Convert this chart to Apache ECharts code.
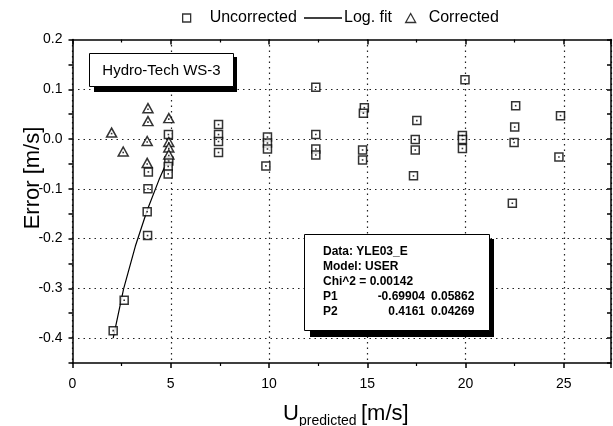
<!DOCTYPE html>
<html>
<head>
<meta charset="utf-8">
<script src="https://cdn.jsdelivr.net/npm/echarts@6/dist/echarts.min.js"></script>
<style>
  html, body { margin: 0; padding: 0; background: #fff; }
  #chart { width: 613px; height: 426px; }
</style>
</head>
<body>
<div id="chart"></div>
<script>
// Wind speed error vs. predicted speed (Hydro-Tech WS-3)
const uncorrected = [
  [2.07, -0.385], [2.63, -0.324],
  [3.80, -0.146], [3.82, -0.194], [3.84, -0.100], [3.86, -0.066],
  [4.88, 0.009], [4.90, -0.044], [4.87, -0.055], [4.87, -0.070],
  [7.43, 0.029], [7.43, 0.009], [7.43, -0.005], [7.43, -0.027],
  [9.92, 0.004], [9.92, -0.008], [9.92, -0.020], [9.84, -0.054],
  [12.38, 0.104], [12.38, 0.009], [12.38, -0.020], [12.38, -0.032],
  [14.85, 0.063], [14.80, 0.052], [14.76, -0.022], [14.76, -0.042],
  [17.52, 0.037], [17.44, -0.001], [17.44, -0.022], [17.35, -0.074],
  [19.97, 0.119], [19.84, 0.007], [19.84, -0.001], [19.84, -0.019],
  [22.55, 0.067], [22.50, 0.024], [22.47, -0.007], [22.38, -0.129],
  [24.83, 0.047], [24.75, -0.036]
];
const corrected = [
  [1.99, 0.013], [2.58, -0.025],
  [3.84, 0.062], [3.84, 0.036], [3.80, -0.004], [3.80, -0.048],
  [4.90, 0.042], [4.90, -0.006], [4.90, -0.017], [4.90, -0.031]
];
const logFit = [
  [2.07, -0.400], [2.6, -0.301], [3.2, -0.215], [3.8, -0.143], [4.4, -0.082], [4.9, -0.037]
];
const yGridValues = [0.1, 0.0, -0.1, -0.2, -0.3, -0.4];
const fitHeader = ['Data: YLE03_E', 'Model: USER', 'Chi^2 = 0.00142'];
const fitInfo = [
  ['P1', '-0.69904', '0.05862'],
  ['P2', '0.4161', '0.04269']
];

const FONT = 'Liberation Sans, Arial, sans-serif';
const dotted = { color: '#222', width: 1.2, type: [1.5, 4] };

const chart = echarts.init(document.getElementById('chart'), null, { renderer: 'canvas' });

const axisCommon = {
  type: 'value',
  axisLine: { show: true, onZero: false, lineStyle: { color: '#000', width: 1.5 } },
  axisLabel: { show: false },
  splitLine: { show: false }
};

const boxText = (text, x, y, align) => ({
  type: 'text', x: x, y: y, z: 12,
  style: { text: text, fontSize: 12, fontWeight: 'bold', fontFamily: FONT, fill: '#000', align: align || 'left', verticalAlign: 'middle' }
});

const option = {
  animation: false,
  backgroundColor: '#fff',
  grid: { left: 72.5, top: 39.5, right: 2, bottom: 63, outerBoundsMode: 'none', containLabel: false },
  xAxis: [
    Object.assign({}, axisCommon, {
      position: 'bottom', min: 0, max: 27.4, interval: 5,
      axisTick: { show: true, inside: false, length: 5, lineStyle: { color: '#000', width: 1.5 } },
      minorTick: { show: true, splitNumber: 2, length: 3, lineStyle: { color: '#000', width: 1.2 } },
      axisLabel: {
        show: true, color: '#000', fontSize: 14, fontFamily: FONT, margin: 14,
        showMaxLabel: false,
        formatter: function (v) { return Math.abs(v % 5) < 1e-6 ? String(v) : ''; }
      },
      splitLine: { show: true, lineStyle: dotted }
    }),
    Object.assign({}, axisCommon, {
      position: 'top', min: 0, max: 27.4, interval: 5,
      axisTick: { show: true, inside: true, length: 5, lineStyle: { color: '#000', width: 1.5 } },
      minorTick: { show: true, splitNumber: 2, length: 3, lineStyle: { color: '#000', width: 1.2 } }
    })
  ],
  yAxis: [
    Object.assign({}, axisCommon, {
      position: 'left', min: -0.45, max: 0.2, interval: 0.05,
      axisTick: { show: true, inside: false, length: 4, lineStyle: { color: '#000', width: 1.5 } },
      axisLabel: {
        show: true, color: '#000', fontSize: 14, fontFamily: FONT, margin: 10,
        formatter: function (v) {
          const k = Math.round(v * 100);
          if (k % 10 !== 0) return '';
          return (k / 100).toFixed(1);
        }
      }
    }),
    Object.assign({}, axisCommon, {
      position: 'right', min: -0.45, max: 0.2, interval: 0.05,
      axisTick: { show: true, inside: true, length: 4, lineStyle: { color: '#000', width: 1.5 } }
    })
  ],
  legend: [
    {
      left: 177, top: 5, itemWidth: 8, itemHeight: 8, icon: 'rect',
      itemStyle: { color: '#fff', borderColor: '#000', borderWidth: 1.3 },
      textStyle: { fontSize: 16, fontFamily: FONT, color: '#000', padding: [0, 0, 0, 14] },
      data: ['Uncorrected']
    },
    {
      left: 299, top: 5, itemWidth: 38, itemHeight: 1.3, icon: 'rect',
      itemStyle: { color: '#000' },
      textStyle: { fontSize: 16, fontFamily: FONT, color: '#000', padding: [0, 0, 0, -3] },
      data: ['Log. fit']
    },
    {
      left: 400, top: 5, itemWidth: 10, itemHeight: 9, icon: 'triangle',
      itemStyle: { color: '#fff', borderColor: '#000', borderWidth: 1.3 },
      textStyle: { fontSize: 16, fontFamily: FONT, color: '#000', padding: [0, 0, 0, 8] },
      data: ['Corrected']
    }
  ],
  series: [
    {
      name: 'grid-lines', type: 'line', data: [], silent: true,
      markLine: {
        silent: true, symbol: 'none', label: { show: false },
        lineStyle: dotted,
        data: yGridValues.map(v => ({ yAxis: v }))
      }
    },
    {
      name: 'Log. fit', type: 'line', data: logFit, showSymbol: false, symbol: 'none',
      lineStyle: { color: '#000', width: 1.2 }, itemStyle: { color: '#000' }, z: 3
    },
    {
      name: 'Uncorrected', type: 'scatter', data: uncorrected, symbol: 'rect', symbolSize: 8,
      itemStyle: { color: '#fff', borderColor: '#000', borderWidth: 1.5 }, z: 4
    },
    {
      name: 'uncorrected-centres', type: 'scatter', data: uncorrected, symbol: 'rect', symbolSize: 1.6,
      itemStyle: { color: '#000' }, silent: true, z: 5
    },
    {
      name: 'Corrected', type: 'scatter', data: corrected, symbol: 'triangle', symbolSize: [10, 9],
      itemStyle: { color: '#fff', borderColor: '#000', borderWidth: 1.5 }, z: 6
    },
    {
      name: 'corrected-centres', type: 'scatter', data: corrected, symbol: 'rect', symbolSize: 1.6,
      symbolOffset: [0, 1], itemStyle: { color: '#000' }, silent: true, z: 7
    }
  ],
  graphic: [
    // axis titles
    {
      type: 'text', rotation: Math.PI / 2, x: 33, y: 178,
      style: { text: 'Error [m/s]', fontSize: 22, fontFamily: FONT, fill: '#000', align: 'center', verticalAlign: 'middle' }
    },
    {
      type: 'text', x: 283, y: 414,
      style: { text: 'U', fontSize: 22, fontFamily: FONT, fill: '#000', align: 'left', verticalAlign: 'middle' }
    },
    {
      type: 'text', x: 299, y: 421,
      style: { text: 'predicted', fontSize: 14, fontFamily: FONT, fill: '#000', align: 'left', verticalAlign: 'middle' }
    },
    {
      type: 'text', x: 361, y: 414,
      style: { text: '[m/s]', fontSize: 22, fontFamily: FONT, fill: '#000', align: 'left', verticalAlign: 'middle' }
    },
    // instrument label box
    {
      type: 'rect', shape: { x: 94, y: 57, width: 143, height: 35 }, style: { fill: '#000' }, z: 10
    },
    {
      type: 'rect', shape: { x: 89.5, y: 53.5, width: 144, height: 33 },
      style: { fill: '#fff', stroke: '#000', lineWidth: 1 }, z: 11
    },
    {
      type: 'text', x: 161.5, y: 70.5, z: 12,
      style: { text: 'Hydro-Tech WS-3', fontSize: 15, fontFamily: FONT, fill: '#000', align: 'center', verticalAlign: 'middle' }
    },
    // fit summary box
    {
      type: 'rect', shape: { x: 310, y: 239, width: 184, height: 98 }, style: { fill: '#000' }, z: 10
    },
    {
      type: 'rect', shape: { x: 304.5, y: 234.5, width: 185, height: 96 },
      style: { fill: '#fff', stroke: '#000', lineWidth: 1 }, z: 11
    }
  ]
    .concat(fitHeader.map((t, i) => boxText(t, 323, 252 + i * 15)))
    .concat(fitInfo.flatMap((row, i) => [
      boxText(row[0], 323, 297 + i * 15),
      boxText(row[1], 425, 297 + i * 15, 'right'),
      boxText(row[2], 431, 297 + i * 15)
    ]))
};

chart.setOption(option);
</script>
</body>
</html>
